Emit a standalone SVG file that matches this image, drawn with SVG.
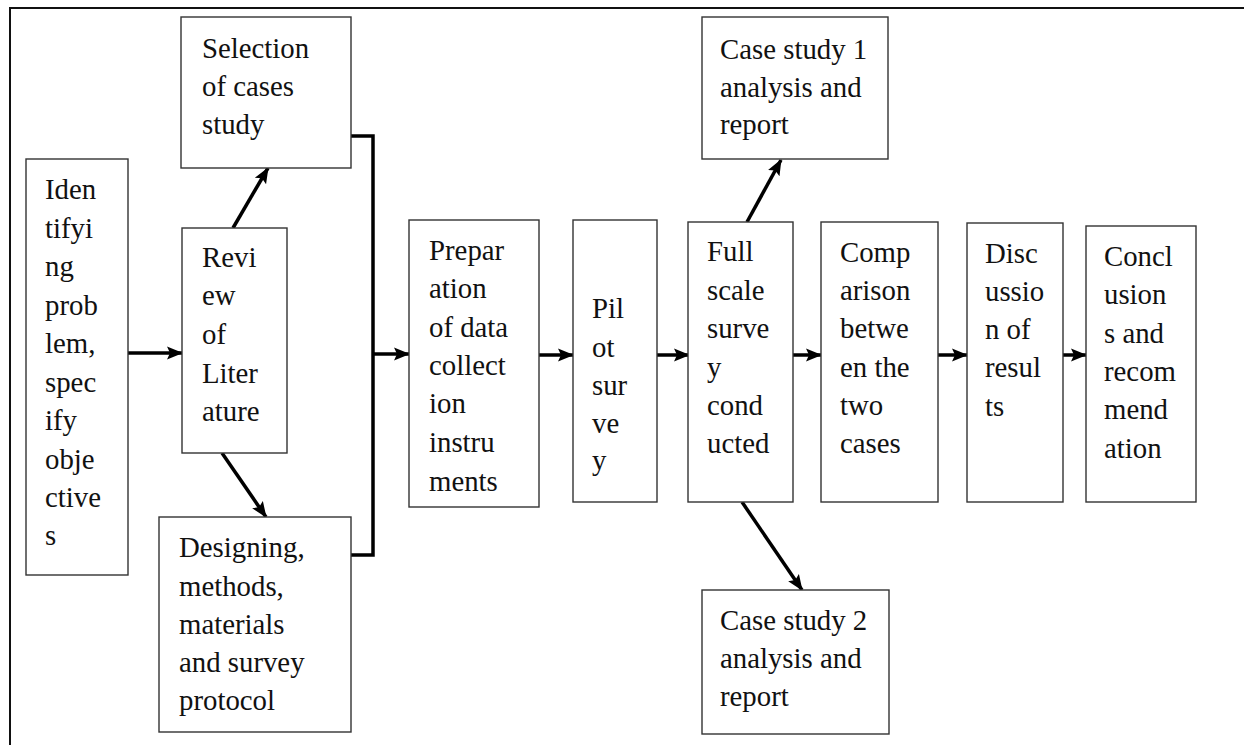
<svg xmlns="http://www.w3.org/2000/svg" width="1244" height="745" viewBox="0 0 1244 745">
<defs>
<marker id="ah" markerUnits="userSpaceOnUse" markerWidth="16" markerHeight="16" viewBox="0 0 16 16" refX="15" refY="8" orient="auto">
<path d="M0,1.5 L16,8 L0,14.5 L3,8 Z" fill="#000"/>
</marker>
<style>
.box{fill:#fff;stroke:#333;stroke-width:1.4}
.c{fill:none;stroke:#000;stroke-width:3.5}
.a{marker-end:url(#ah)}
.frame{fill:none;stroke:#111;stroke-width:2}
</style>
</defs>
<rect width="1244" height="745" fill="#fff"/>
<path class="frame" d="M10,745 V8 H1244"/>

<g id="connectors">
<line class="c a" x1="128" y1="353" x2="182" y2="353"/>
<line class="c a" x1="233" y1="228" x2="268" y2="168"/>
<line class="c a" x1="222" y1="453" x2="266" y2="517"/>
<path class="c" d="M351,136 H373 V555 H351"/>
<line class="c a" x1="373" y1="354" x2="409" y2="354"/>
<line class="c a" x1="539" y1="355" x2="573" y2="355"/>
<line class="c a" x1="657" y1="355" x2="689" y2="355"/>
<line class="c a" x1="747" y1="222" x2="781" y2="160"/>
<line class="c a" x1="742" y1="502" x2="802" y2="590"/>
<line class="c a" x1="793" y1="355" x2="821" y2="355"/>
<line class="c a" x1="938" y1="355" x2="967" y2="355"/>
<line class="c a" x1="1063" y1="355" x2="1086" y2="355"/>
</g>

<g id="identifying">
<rect class="box" x="26" y="159" width="102" height="416"/>
<text font-family="'Liberation Serif', 'Times New Roman', serif" font-size="28.8" fill="#111" x="45" y="199">Iden</text>
<text font-family="'Liberation Serif', 'Times New Roman', serif" font-size="28.8" fill="#111" x="45" y="237.5">tifyi</text>
<text font-family="'Liberation Serif', 'Times New Roman', serif" font-size="28.8" fill="#111" x="45" y="276">ng</text>
<text font-family="'Liberation Serif', 'Times New Roman', serif" font-size="28.8" fill="#111" x="45" y="314.5">prob</text>
<text font-family="'Liberation Serif', 'Times New Roman', serif" font-size="28.8" fill="#111" x="45" y="353">lem,</text>
<text font-family="'Liberation Serif', 'Times New Roman', serif" font-size="28.8" fill="#111" x="45" y="391.5">spec</text>
<text font-family="'Liberation Serif', 'Times New Roman', serif" font-size="28.8" fill="#111" x="45" y="430">ify</text>
<text font-family="'Liberation Serif', 'Times New Roman', serif" font-size="28.8" fill="#111" x="45" y="468.5">obje</text>
<text font-family="'Liberation Serif', 'Times New Roman', serif" font-size="28.8" fill="#111" x="45" y="507">ctive</text>
<text font-family="'Liberation Serif', 'Times New Roman', serif" font-size="28.8" fill="#111" x="45" y="545">s</text>
</g>

<g id="selection">
<rect class="box" x="181" y="17" width="170" height="151"/>
<text font-family="'Liberation Serif', 'Times New Roman', serif" font-size="28.8" fill="#111" x="202" y="58">Selection</text>
<text font-family="'Liberation Serif', 'Times New Roman', serif" font-size="28.8" fill="#111" x="202" y="96">of cases</text>
<text font-family="'Liberation Serif', 'Times New Roman', serif" font-size="28.8" fill="#111" x="202" y="134">study</text>
</g>

<g id="review">
<rect class="box" x="182" y="228" width="105" height="225"/>
<text font-family="'Liberation Serif', 'Times New Roman', serif" font-size="28.8" fill="#111" x="202" y="267">Revi</text>
<text font-family="'Liberation Serif', 'Times New Roman', serif" font-size="28.8" fill="#111" x="202" y="305">ew</text>
<text font-family="'Liberation Serif', 'Times New Roman', serif" font-size="28.8" fill="#111" x="202" y="344">of</text>
<text font-family="'Liberation Serif', 'Times New Roman', serif" font-size="28.8" fill="#111" x="202" y="383">Liter</text>
<text font-family="'Liberation Serif', 'Times New Roman', serif" font-size="28.8" fill="#111" x="202" y="421">ature</text>
</g>

<g id="designing">
<rect class="box" x="159" y="517" width="192" height="215"/>
<text font-family="'Liberation Serif', 'Times New Roman', serif" font-size="28.8" fill="#111" x="179" y="557">Designing,</text>
<text font-family="'Liberation Serif', 'Times New Roman', serif" font-size="28.8" fill="#111" x="179" y="596">methods,</text>
<text font-family="'Liberation Serif', 'Times New Roman', serif" font-size="28.8" fill="#111" x="179" y="634">materials</text>
<text font-family="'Liberation Serif', 'Times New Roman', serif" font-size="28.8" fill="#111" x="179" y="672">and survey</text>
<text font-family="'Liberation Serif', 'Times New Roman', serif" font-size="28.8" fill="#111" x="179" y="710">protocol</text>
</g>

<g id="preparation">
<rect class="box" x="409" y="220" width="130" height="287"/>
<text font-family="'Liberation Serif', 'Times New Roman', serif" font-size="28.8" fill="#111" x="429" y="260">Prepar</text>
<text font-family="'Liberation Serif', 'Times New Roman', serif" font-size="28.8" fill="#111" x="429" y="298">ation</text>
<text font-family="'Liberation Serif', 'Times New Roman', serif" font-size="28.8" fill="#111" x="429" y="337">of data</text>
<text font-family="'Liberation Serif', 'Times New Roman', serif" font-size="28.8" fill="#111" x="429" y="375">collect</text>
<text font-family="'Liberation Serif', 'Times New Roman', serif" font-size="28.8" fill="#111" x="429" y="413">ion</text>
<text font-family="'Liberation Serif', 'Times New Roman', serif" font-size="28.8" fill="#111" x="429" y="452">instru</text>
<text font-family="'Liberation Serif', 'Times New Roman', serif" font-size="28.8" fill="#111" x="429" y="491">ments</text>
</g>

<g id="pilot">
<rect class="box" x="573" y="220" width="84" height="282"/>
<text font-family="'Liberation Serif', 'Times New Roman', serif" font-size="28.8" fill="#111" x="592" y="318">Pil</text>
<text font-family="'Liberation Serif', 'Times New Roman', serif" font-size="28.8" fill="#111" x="592" y="357">ot</text>
<text font-family="'Liberation Serif', 'Times New Roman', serif" font-size="28.8" fill="#111" x="592" y="395">sur</text>
<text font-family="'Liberation Serif', 'Times New Roman', serif" font-size="28.8" fill="#111" x="592" y="433">ve</text>
<text font-family="'Liberation Serif', 'Times New Roman', serif" font-size="28.8" fill="#111" x="592" y="470">y</text>
</g>

<g id="fullscale">
<rect class="box" x="688" y="222" width="105" height="280"/>
<text font-family="'Liberation Serif', 'Times New Roman', serif" font-size="28.8" fill="#111" x="707" y="261">Full</text>
<text font-family="'Liberation Serif', 'Times New Roman', serif" font-size="28.8" fill="#111" x="707" y="300">scale</text>
<text font-family="'Liberation Serif', 'Times New Roman', serif" font-size="28.8" fill="#111" x="707" y="338">surve</text>
<text font-family="'Liberation Serif', 'Times New Roman', serif" font-size="28.8" fill="#111" x="707" y="377">y</text>
<text font-family="'Liberation Serif', 'Times New Roman', serif" font-size="28.8" fill="#111" x="707" y="415">cond</text>
<text font-family="'Liberation Serif', 'Times New Roman', serif" font-size="28.8" fill="#111" x="707" y="453">ucted</text>
</g>

<g id="case1">
<rect class="box" x="702" y="17" width="186" height="142"/>
<text font-family="'Liberation Serif', 'Times New Roman', serif" font-size="28.8" fill="#111" x="720" y="59">Case study 1</text>
<text font-family="'Liberation Serif', 'Times New Roman', serif" font-size="28.8" fill="#111" x="720" y="97">analysis and</text>
<text font-family="'Liberation Serif', 'Times New Roman', serif" font-size="28.8" fill="#111" x="720" y="134">report</text>
</g>

<g id="case2">
<rect class="box" x="702" y="590" width="187" height="144"/>
<text font-family="'Liberation Serif', 'Times New Roman', serif" font-size="28.8" fill="#111" x="720" y="630">Case study 2</text>
<text font-family="'Liberation Serif', 'Times New Roman', serif" font-size="28.8" fill="#111" x="720" y="668">analysis and</text>
<text font-family="'Liberation Serif', 'Times New Roman', serif" font-size="28.8" fill="#111" x="720" y="706">report</text>
</g>

<g id="comparison">
<rect class="box" x="821" y="222" width="117" height="280"/>
<text font-family="'Liberation Serif', 'Times New Roman', serif" font-size="28.8" fill="#111" x="840" y="262">Comp</text>
<text font-family="'Liberation Serif', 'Times New Roman', serif" font-size="28.8" fill="#111" x="840" y="300">arison</text>
<text font-family="'Liberation Serif', 'Times New Roman', serif" font-size="28.8" fill="#111" x="840" y="338">betwe</text>
<text font-family="'Liberation Serif', 'Times New Roman', serif" font-size="28.8" fill="#111" x="840" y="377">en the</text>
<text font-family="'Liberation Serif', 'Times New Roman', serif" font-size="28.8" fill="#111" x="840" y="415">two</text>
<text font-family="'Liberation Serif', 'Times New Roman', serif" font-size="28.8" fill="#111" x="840" y="453">cases</text>
</g>

<g id="discussion">
<rect class="box" x="967" y="223" width="96" height="279"/>
<text font-family="'Liberation Serif', 'Times New Roman', serif" font-size="28.8" fill="#111" x="985" y="263">Disc</text>
<text font-family="'Liberation Serif', 'Times New Roman', serif" font-size="28.8" fill="#111" x="985" y="301">ussio</text>
<text font-family="'Liberation Serif', 'Times New Roman', serif" font-size="28.8" fill="#111" x="985" y="339">n of</text>
<text font-family="'Liberation Serif', 'Times New Roman', serif" font-size="28.8" fill="#111" x="985" y="377">resul</text>
<text font-family="'Liberation Serif', 'Times New Roman', serif" font-size="28.8" fill="#111" x="985" y="416">ts</text>
</g>

<g id="conclusion">
<rect class="box" x="1086" y="226" width="110" height="276"/>
<text font-family="'Liberation Serif', 'Times New Roman', serif" font-size="28.8" fill="#111" x="1104" y="266">Concl</text>
<text font-family="'Liberation Serif', 'Times New Roman', serif" font-size="28.8" fill="#111" x="1104" y="304">usion</text>
<text font-family="'Liberation Serif', 'Times New Roman', serif" font-size="28.8" fill="#111" x="1104" y="343">s and</text>
<text font-family="'Liberation Serif', 'Times New Roman', serif" font-size="28.8" fill="#111" x="1104" y="381">recom</text>
<text font-family="'Liberation Serif', 'Times New Roman', serif" font-size="28.8" fill="#111" x="1104" y="419">mend</text>
<text font-family="'Liberation Serif', 'Times New Roman', serif" font-size="28.8" fill="#111" x="1104" y="458">ation</text>
</g>
</svg>
